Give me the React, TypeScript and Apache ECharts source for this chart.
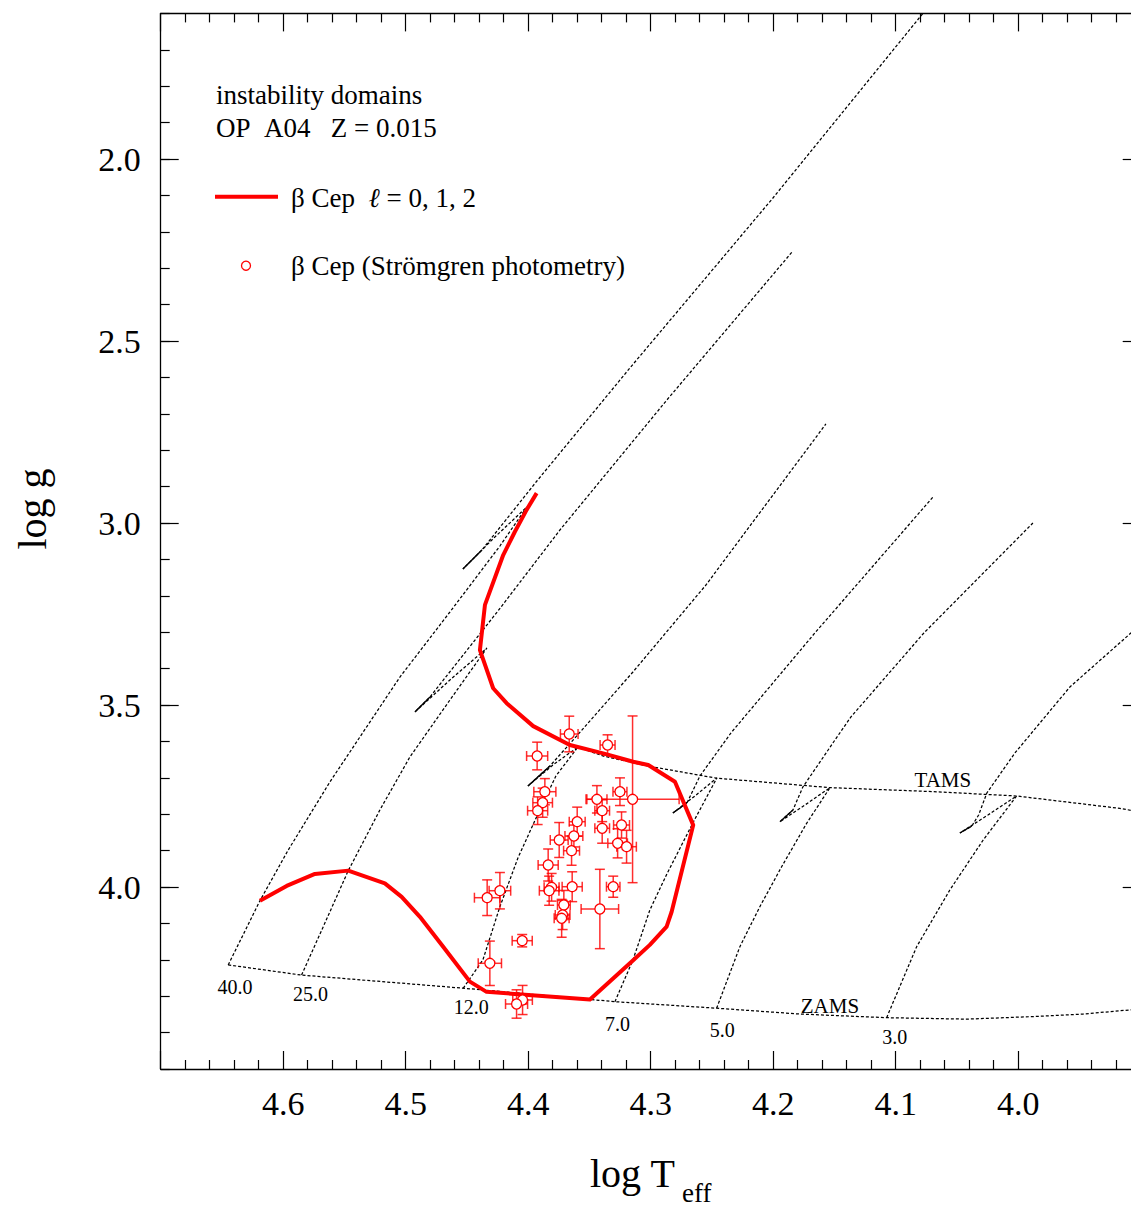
import React, { useEffect, useRef } from "react";
import * as echarts from "echarts";

const FONT = '"Liberation Serif", "Times New Roman", Times, serif';
const RED = "#ff0000";

// ---- axes ----
const xMin = 3.9;
const xMax = 4.7;
const yMin = 1.6;
const yMax = 4.5;
const xLabelValues = [4.0, 4.1, 4.2, 4.3, 4.4, 4.5, 4.6];
const yLabelValues = [2.0, 2.5, 3.0, 3.5, 4.0];

// ---- instability domain (beta Cep, l = 0,1,2) ----
const betaCepDomain: number[][] = [
  [4.3931, 2.918], [4.4013, 2.964], [4.4109, 3.024], [4.4204, 3.088], [4.4353, 3.225],
  [4.4394, 3.349], [4.4286, 3.454], [4.4176, 3.495], [4.3959, 3.558], [4.366, 3.61],
  [4.3388, 3.633], [4.3143, 3.656], [4.302, 3.665], [4.2802, 3.711], [4.2653, 3.83],
  [4.2829, 4.068], [4.287, 4.109], [4.3007, 4.159], [4.3143, 4.201], [4.3496, 4.309],
  [4.434, 4.288], [4.4476, 4.26], [4.4694, 4.164], [4.4884, 4.082], [4.5033, 4.027],
  [4.517, 3.99], [4.5469, 3.955], [4.5741, 3.964], [4.5972, 3.997], [4.619, 4.038],
];

// ---- ZAMS / TAMS ----
const zams: number[][] = [
  [4.6449, 4.214], [4.585, 4.242], [4.453, 4.278], [4.3292, 4.315], [4.2462, 4.333],
  [4.1782, 4.349], [4.1074, 4.359], [4.0421, 4.363], [3.9878, 4.356], [3.9469, 4.349], [3.9, 4.335],
];
const tams: number[][] = [
  [4.3594, 3.6154], [4.339, 3.64], [4.302, 3.668], [4.2462, 3.701], [4.1537, 3.727],
  [4.0694, 3.738], [4.0013, 3.75], [3.917, 3.784], [3.9, 3.794],
];

// ---- evolutionary tracks ----
const track40: number[][] = [
  [4.6449, 4.2143], [4.619, 4.0376], [4.5959, 3.8984], [4.5619, 3.7115], [4.5047, 3.4231],
  [4.4639, 3.2445], [4.4231, 3.0632], [4.4011, 2.956], [4.4272, 3.0385], [4.4533, 3.1264],
  [4.4378, 3.0742], [4.3929, 2.8846], [4.317, 2.5742], [4.2002, 2.1071], [4.0778, 1.6],
];
const track25: number[][] = [
  [4.585, 4.2418], [4.5673, 4.109], [4.5469, 3.9552], [4.5211, 3.7885], [4.4966, 3.6429],
  [4.4639, 3.4863], [4.4337, 3.3434], [4.4639, 3.4313], [4.4925, 3.5192], [4.4802, 3.478],
  [4.4247, 3.2418], [4.3741, 3.0192], [4.2868, 2.6621], [4.1839, 2.2527],
];
const track12: number[][] = [
  [4.4531, 4.2783], [4.437, 4.2005], [4.4231, 4.0541], [4.4084, 3.9203], [4.3931, 3.8069],
  [4.3774, 3.6951], [4.3594, 3.6154], [4.3798, 3.6648], [4.4002, 3.7225], [4.3823, 3.6676],
  [4.3619, 3.5907], [4.3145, 3.4093], [4.2549, 3.1703], [4.157, 2.728],
];
const track7: number[][] = [
  [4.3292, 4.3151], [4.3145, 4.2005], [4.3007, 4.0632], [4.2868, 3.9643], [4.2656, 3.8242],
  [4.246, 3.7005], [4.2639, 3.75], [4.2819, 3.7967], [4.2704, 3.7692], [4.2598, 3.6951],
  [4.2345, 3.5769], [4.166, 3.3022], [4.0696, 2.9286],
];
const track5: number[][] = [
  [4.2462, 4.3332], [4.2272, 4.164], [4.2109, 4.0541], [4.1931, 3.9442], [4.1727, 3.825],
  [4.1537, 3.7272], [4.1741, 3.7747], [4.1945, 3.8206], [4.1839, 3.7885], [4.1758, 3.7253],
  [4.1635, 3.6648], [4.1496, 3.5962], [4.1366, 3.533], [4.077, 3.3022], [3.988, 3.0],
];
const track3: number[][] = [
  [4.1074, 4.359], [4.0829, 4.164], [4.0558, 4.0082], [4.0286, 3.8709], [4.0013, 3.75],
  [4.0247, 3.8022], [4.0476, 3.8516], [4.0378, 3.8324], [4.0323, 3.8022], [4.0256, 3.7418],
  [4.0027, 3.6319], [3.9578, 3.4505], [3.908, 3.3022], [3.9, 3.2775],
];
const tracks = [track40, track25, track12, track7, track5, track3];
const hookIndex = [9, 8, 8, 7, 7, 6];

// ---- labels on the diagram ----
const massLabelNames = ["40.0", "25.0", "12.0", "7.0", "5.0", "3.0"];
const massLabelPos: number[][] = [
  [4.6394, 4.2747], [4.5778, 4.2953], [4.4464, 4.331], [4.3272, 4.375], [4.2415, 4.3929], [4.1007, 4.4121],
];
const lineLabelNames = ["TAMS", "ZAMS"];
const lineLabelPos: number[][] = [[4.0615, 3.706], [4.1537, 4.327]];

// ---- beta Cep stars (Stromgren photometry) ----
const starLogTeff = [
  4.3665, 4.3352, 4.3927, 4.3864, 4.3882, 4.3923, 4.3439, 4.3396, 4.3396, 4.3251, 4.3148,
  4.3238, 4.327, 4.3197, 4.36, 4.3627, 4.3747, 4.3646, 4.3837, 4.4231, 4.4335, 4.3809,
  4.3829, 4.3641, 4.3306, 4.3415, 4.3709, 4.3719, 4.3727, 4.4049, 4.4313, 4.4046, 4.4095,
];
const starLogg = [
  3.5797, 3.6099, 3.6401, 3.7382, 3.7684, 3.7904, 3.7591, 3.7904, 3.8387, 3.7382, 3.7591,
  3.8297, 3.88, 3.8893, 3.8206, 3.8599, 3.8709, 3.9003, 3.9396, 4.0102, 4.0294, 4.0008,
  4.0102, 3.9992, 3.9992, 4.0604, 4.0495, 4.0769, 4.086, 4.1475, 4.2096, 4.3104, 4.3214,
];
const starErrLogTeff = [
  0.0072, 0.0061, 0.0086, 0.009, 0.008, 0.0082, 0.0082, 0.006, 0.006, 0.0057, 0.038,
  0.0065, 0.008, 0.008, 0.0065, 0.0073, 0.0073, 0.0065, 0.0082, 0.0088, 0.0104, 0.0061,
  0.008, 0.0082, 0.0055, 0.0153, 0.0052, 0.006, 0.0061, 0.0082, 0.0095, 0.008, 0.009,
];
const starErrLogg = [
  0.049, 0.028, 0.038, 0.036, 0.04, 0.038, 0.0376, 0.03, 0.041, 0.038, 0.229,
  0.036, 0.04, 0.045, 0.04, 0.03, 0.048, 0.04, 0.044, 0.05, 0.049, 0.038,
  0.04, 0.041, 0.029, 0.109, 0.04, 0.04, 0.052, 0.017, 0.061, 0.04, 0.039,
];

const tickLine = { color: "#000", width: 1.2 };
const frameLine = { color: "#000", width: 1.3 };

function xAxisDef(position: string, showLabel: boolean) {
  return {
    type: "value",
    position,
    min: xMin,
    max: xMax,
    inverse: true,
    interval: 0.1,
    axisLine: { show: true, onZero: false, lineStyle: frameLine },
    axisTick: { show: true, inside: true, length: 18, lineStyle: tickLine },
    minorTick: { show: true, splitNumber: 5, length: 9, lineStyle: tickLine },
    splitLine: { show: false },
    minorSplitLine: { show: false },
    axisLabel: {
      show: showLabel,
      margin: 17,
      fontSize: 34,
      fontFamily: FONT,
      color: "#000",
      formatter: (v: number) => (xLabelValues.some((t) => Math.abs(t - v) < 1e-6) ? v.toFixed(1) : ""),
    },
  };
}

function yAxisMinor(position: string, showLabel: boolean) {
  return {
    type: "value",
    position,
    min: yMin,
    max: yMax,
    inverse: true,
    interval: 0.1,
    axisLine: { show: true, onZero: false, lineStyle: frameLine },
    axisTick: { show: true, inside: true, length: 9, lineStyle: tickLine },
    splitLine: { show: false },
    axisLabel: {
      show: showLabel,
      margin: 20,
      fontSize: 34,
      fontFamily: FONT,
      color: "#000",
      formatter: (v: number) => (yLabelValues.some((t) => Math.abs(t - v) < 1e-6) ? v.toFixed(1) : ""),
    },
  };
}

function yAxisMajor(position: string) {
  return {
    type: "value",
    position,
    min: yMin,
    max: yMax,
    inverse: true,
    interval: 0.1,
    axisLine: { show: false, onZero: false },
    axisTick: { show: true, inside: true, length: 18, lineStyle: tickLine, customValues: yLabelValues },
    splitLine: { show: false },
    axisLabel: { show: false },
  };
}

const dashed = { color: "#000", width: 1.25, type: [3, 2] as any };

function buildOption(): any {
  const trackSeries = tracks.map((t, i) => ({
    type: "line",
    name: "track" + massLabelNames[i],
    data: t,
    symbol: "none",
    silent: true,
    z: 2,
    lineStyle: dashed,
  }));
  const hookSeries = tracks.map((t, i) => ({
    type: "line",
    name: "hook" + massLabelNames[i],
    data: [t[hookIndex[i]], t[hookIndex[i] + 1]],
    symbol: "none",
    silent: true,
    z: 2,
    lineStyle: { color: "#000", width: 1.3 },
  }));
  const errData = starLogTeff.map((t, i) => [t, starLogg[i], starErrLogTeff[i], starErrLogg[i]]);
  const labelStyle = (size: number) => ({
    show: true,
    position: "inside",
    formatter: "{b}",
    fontSize: size,
    fontFamily: FONT,
    color: "#000",
    opacity: 1,
    textBorderWidth: 0,
    textShadowBlur: 0,
  });
  const txt = (text: string, x: number, y: number, size: number, extra: any = {}) => ({
    type: "text",
    x,
    y,
    ...extra,
    style: {
      text,
      fontSize: size,
      fontFamily: FONT,
      fill: "#000",
      align: extra.align || "left",
      verticalAlign: "middle",
      textAlign: extra.align || "left",
      textVerticalAlign: "middle",
      ...(extra.style || {}),
    },
  });

  return {
    animation: false,
    backgroundColor: "#fff",
    textStyle: { fontFamily: FONT },
    grid: { left: 160.7, top: 13.4, width: 980, height: 1055.6, containLabel: false, outerBoundsMode: "none" },
    xAxis: [xAxisDef("bottom", true), xAxisDef("top", false)],
    yAxis: [yAxisMinor("left", true), yAxisMajor("left"), yAxisMinor("right", false), yAxisMajor("right")],
    series: [
      ...trackSeries,
      ...hookSeries,
      { type: "line", name: "ZAMS", data: zams, symbol: "none", silent: true, z: 2, lineStyle: dashed },
      { type: "line", name: "TAMS", data: tams, symbol: "none", silent: true, z: 2, lineStyle: dashed },
      {
        type: "line",
        name: "beta Cep l=0,1,2",
        data: betaCepDomain,
        symbol: "none",
        silent: true,
        z: 3,
        lineStyle: { color: RED, width: 4, join: "round" },
      },
      {
        type: "custom",
        name: "errors",
        data: errData,
        encode: { x: 0, y: 1 },
        clip: true,
        silent: true,
        z: 4,
        renderItem: (params: any, api: any) => {
          const T = api.value(0);
          const g = api.value(1);
          const dT = api.value(2);
          const dg = api.value(3);
          const c = api.coord([T, g]);
          const left = api.coord([T + dT, g]);
          const right = api.coord([T - dT, g]);
          const top = api.coord([T, g - dg]);
          const bottom = api.coord([T, g + dg]);
          const cap = 5;
          const style = { stroke: "rgba(255,0,0,0.82)", lineWidth: 1.5 };
          const ln = (x1: number, y1: number, x2: number, y2: number) => ({
            type: "line",
            shape: { x1, y1, x2, y2 },
            style,
          });
          return {
            type: "group",
            children: [
              ln(left[0], c[1], right[0], c[1]),
              ln(c[0], top[1], c[0], bottom[1]),
              ln(left[0], c[1] - cap, left[0], c[1] + cap),
              ln(right[0], c[1] - cap, right[0], c[1] + cap),
              ln(c[0] - cap, top[1], c[0] + cap, top[1]),
              ln(c[0] - cap, bottom[1], c[0] + cap, bottom[1]),
            ],
          };
        },
      },
      {
        type: "scatter",
        name: "beta Cep (Stromgren photometry)",
        data: starLogTeff.map((t, i) => [t, starLogg[i]]),
        symbol: "circle",
        symbolSize: 10,
        silent: true,
        z: 5,
        itemStyle: { color: "#fff", borderColor: RED, borderWidth: 1.3, opacity: 1 },
      },
      {
        type: "scatter",
        name: "mass labels",
        data: massLabelNames.map((n, i) => ({ name: n, value: massLabelPos[i] })),
        symbolSize: 1,
        silent: true,
        z: 6,
        itemStyle: { color: "rgba(255,255,255,0)", opacity: 1 },
        label: labelStyle(20),
      },
      {
        type: "scatter",
        name: "line labels",
        data: lineLabelNames.map((n, i) => ({ name: n, value: lineLabelPos[i] })),
        symbolSize: 1,
        silent: true,
        z: 6,
        itemStyle: { color: "rgba(255,255,255,0)", opacity: 1 },
        label: labelStyle(21),
      },
    ],
    graphic: [
      txt("instability domains", 216, 94.7, 27),
      txt("OP\u00a0\u00a0A04\u00a0\u00a0\u00a0Z\u00a0=\u00a00.015", 216, 128.1, 27),
      {
        type: "line",
        shape: { x1: 215, y1: 196.7, x2: 278, y2: 196.7 },
        style: { stroke: RED, lineWidth: 4 },
      },
      {
        type: "text",
        x: 291,
        y: 198.1,
        style: {
          text: "{a|\u03b2 Cep\u00a0\u00a0}{b|\u2113}{a|\u00a0=\u00a00,\u00a01,\u00a02}",
          fontSize: 27,
          fontFamily: FONT,
          fill: "#000",
          align: "left",
          verticalAlign: "middle",
          textAlign: "left",
          textVerticalAlign: "middle",
          rich: {
            a: { fontSize: 27, fontFamily: FONT, fill: "#000", color: "#000" },
            b: { fontSize: 27, fontFamily: FONT, fontStyle: "italic", fill: "#000", color: "#000" },
          },
        },
      },
      {
        type: "circle",
        shape: { cx: 246, cy: 265.7, r: 4.5 },
        style: { stroke: RED, fill: "#fff", lineWidth: 1.3 },
      },
      txt("\u03b2 Cep (Str\u00f6mgren photometry)", 291, 266.4, 27),
      txt("log g", 32, 509, 40, { rotation: Math.PI / 2, align: "center" }),
      txt("log T", 590, 1173, 40),
      txt("eff", 682, 1192.5, 27),
    ],
  };
}

export default function App() {
  const ref = useRef<HTMLDivElement>(null);
  useEffect(() => {
    if (!ref.current) return;
    const chart = echarts.init(ref.current, null, { renderer: "svg" });
    chart.setOption(buildOption());
    return () => chart.dispose();
  }, []);
  return (
    <div
      style={{
        position: "absolute",
        left: 0,
        top: 0,
        width: 1131,
        height: 1207,
        overflow: "hidden",
        background: "#fff",
      }}
    >
      <div ref={ref} style={{ width: 1150, height: 1207 }} />
    </div>
  );
}
